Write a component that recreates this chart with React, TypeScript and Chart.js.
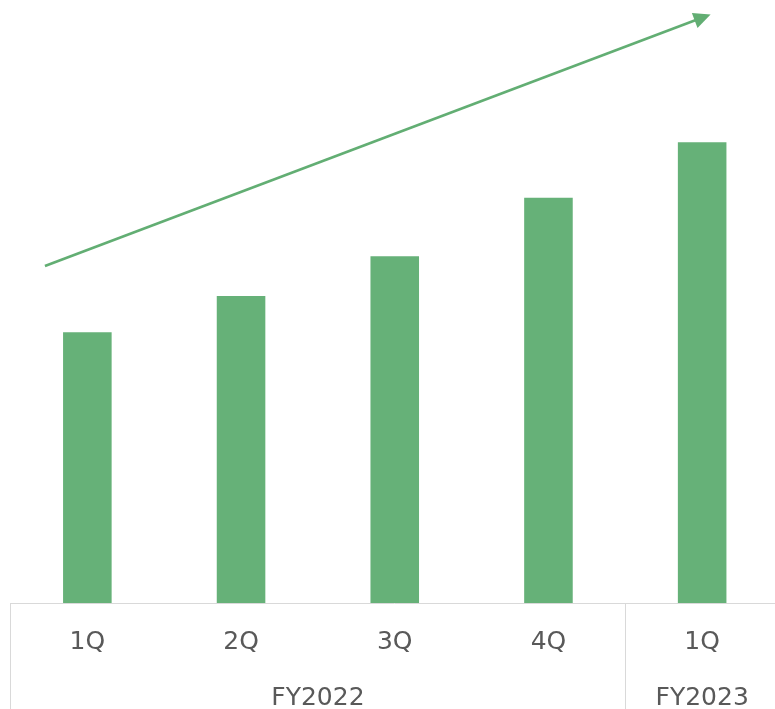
import React, { useEffect, useRef } from "react";
import { Chart, registerables } from "chart.js";

Chart.register(...registerables);

// Data
const quarters = ["1Q", "2Q", "3Q", "4Q", "1Q"];
const fiscalYears = ["FY2022", "FY2023"];
const fiscalYearSpans = [
  [0, 3],
  [4, 4],
];
const values = [44.9, 50.9, 57.5, 67.2, 76.4];
// arrow: start/end in data coordinates (category index, value)
const arrowX = [-0.276, 4.055];
const arrowY = [55.9, 97.6];

const GREEN = "#66B178";
const ARROW = "#62AE73";
const AXIS = "#D9D9D9";
const TEXT = "#595959";
const FONT = "DejaVu Sans, Verdana, sans-serif";

const overlayPlugin = {
  id: "overlay",
  afterDraw(chart: any) {
    const { ctx, chartArea } = chart;
    const x = chart.scales.x;
    const y = chart.scales.y;
    const bottom = chart.height;
    ctx.save();
    // axis line
    ctx.strokeStyle = AXIS;
    ctx.lineWidth = 1;
    const base = Math.round(y.getPixelForValue(0)) + 0.5;
    ctx.beginPath();
    ctx.moveTo(Math.floor(chartArea.left), base);
    ctx.lineTo(chartArea.right, base);
    ctx.stroke();
    // group separators
    const seps = [-0.5];
    fiscalYearSpans.forEach((s) => seps.push(s[1] + 0.5));
    seps.forEach((v) => {
      const px = Math.floor(x.getPixelForValue(v)) + 0.5;
      ctx.beginPath();
      ctx.moveTo(px, base);
      ctx.lineTo(px, bottom);
      ctx.stroke();
    });
    // labels
    ctx.fillStyle = TEXT;
    ctx.font = `25px ${FONT}`;
    ctx.textAlign = "center";
    ctx.textBaseline = "alphabetic";
    quarters.forEach((q, i) => {
      ctx.fillText(q, x.getPixelForValue(i), base + 45.5);
    });
    fiscalYears.forEach((fy, i) => {
      const s = fiscalYearSpans[i];
      const cx = (x.getPixelForValue(s[0] - 0.5) + x.getPixelForValue(s[1] + 0.5)) / 2;
      ctx.fillText(fy, cx, base + 101.5);
    });
    // arrow
    const x0 = x.getPixelForValue(arrowX[0]);
    const y0 = y.getPixelForValue(arrowY[0]);
    const x1 = x.getPixelForValue(arrowX[1]);
    const y1 = y.getPixelForValue(arrowY[1]);
    const ang = Math.atan2(y1 - y0, x1 - x0);
    const headLen = 17;
    const headW = 8;
    const bx = x1 - headLen * Math.cos(ang);
    const by = y1 - headLen * Math.sin(ang);
    ctx.strokeStyle = ARROW;
    ctx.lineWidth = 2.6;
    ctx.beginPath();
    ctx.moveTo(x0, y0);
    ctx.lineTo(bx + 2 * Math.cos(ang), by + 2 * Math.sin(ang));
    ctx.stroke();
    ctx.fillStyle = ARROW;
    ctx.beginPath();
    ctx.moveTo(x1, y1);
    ctx.lineTo(bx + headW * Math.sin(ang), by - headW * Math.cos(ang));
    ctx.lineTo(bx - headW * Math.sin(ang), by + headW * Math.cos(ang));
    ctx.closePath();
    ctx.fill();
    ctx.restore();
  },
};

export default function App() {
  const ref = useRef<HTMLCanvasElement | null>(null);
  useEffect(() => {
    if (!ref.current) return;
    const chart = new Chart(ref.current, {
      type: "bar",
      data: {
        labels: quarters.map((q, i) => `${q}-${i}`),
        datasets: [
          {
            data: values,
            backgroundColor: GREEN,
            borderWidth: 0,
            categoryPercentage: 1,
            barPercentage: 0.316,
          },
        ],
      },
      options: {
        animation: false,
        responsive: false,
        devicePixelRatio: 1,
        layout: { padding: { left: 10.5, right: 1, top: 0, bottom: 106 } },
        plugins: { legend: { display: false }, tooltip: { enabled: false } },
        scales: {
          x: { display: false },
          y: { display: false, min: 0, max: 100 },
        },
      },
      plugins: [overlayPlugin],
    });
    return () => chart.destroy();
  }, []);
  return (
    <div
      style={{
        position: "fixed",
        left: 0,
        top: 0,
        width: 775,
        height: 709,
        overflow: "hidden",
        background: "#fff",
      }}
    >
      <canvas ref={ref} width={780} height={709} style={{ display: "block", width: 780, height: 709 }} />
    </div>
  );
}
